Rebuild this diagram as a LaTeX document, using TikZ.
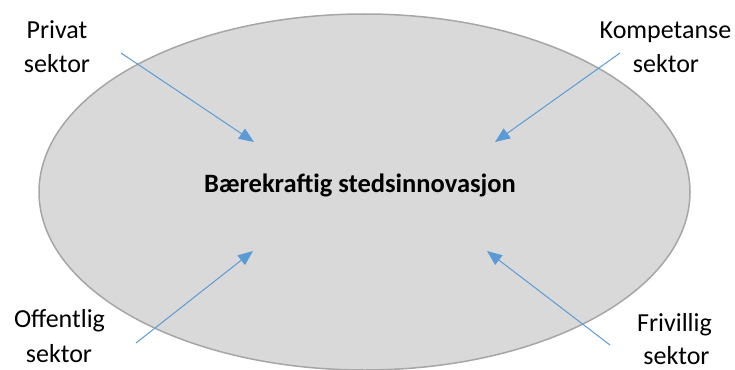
\documentclass[tikz,border=0pt]{standalone}
\usepackage{fontspec}
\setmainfont{Carlito}
\usetikzlibrary{arrows.meta,shapes.geometric}
\definecolor{ellfill}{HTML}{D9D9D9}
\definecolor{elldraw}{HTML}{A6A6A6}
\definecolor{arrblue}{HTML}{5B9BD5}
\tikzset{
  lbl/.style={font=\fontsize{26}{34}\selectfont, anchor=base, inner sep=0pt},
  centertxt/.style={font=\fontsize{26.5}{30}\selectfont\bfseries, anchor=base, inner sep=0pt},
  arr/.style={draw=arrblue, line width=1pt, -{Triangle[length=15pt,width=12pt]}}
}
\begin{document}
\begin{tikzpicture}[x=1pt,y=-1pt]
\useasboundingbox (0,0) rectangle (735,369);
\node[draw=elldraw, fill=ellfill, line width=1.5pt, shape=ellipse, minimum width=651pt, minimum height=356pt, inner sep=0pt] (ell) at (364.5,192) {};
\node[centertxt] (ctr) at (360,192) {Bærekraftig stedsinnovasjon};
\node[lbl] (p1) at (57,38) {Privat};
\node[lbl] (p2) at (57,72) {sektor};
\node[lbl] (k1) at (665.5,38) {Kompetanse};
\node[lbl] (k2) at (666,72) {sektor};
\node[lbl] (o1) at (59.5,327) {Offentlig};
\node[lbl] (o2) at (59,362) {sektor};
\node[lbl] (f1) at (674.5,331) {Frivillig};
\node[lbl] (f2) at (676.5,364) {sektor};
\coordinate (ps) at (121,53);  \coordinate (pt) at (254,142);
\coordinate (ks) at (620,53);  \coordinate (kt) at (495,142);
\coordinate (os) at (136,343); \coordinate (ot) at (253,251);
\coordinate (fs) at (610,345); \coordinate (ft) at (487,251);
\draw[arr] (ps) -- (pt);
\draw[arr] (ks) -- (kt);
\draw[arr] (os) -- (ot);
\draw[arr] (fs) -- (ft);
\end{tikzpicture}
\end{document}
